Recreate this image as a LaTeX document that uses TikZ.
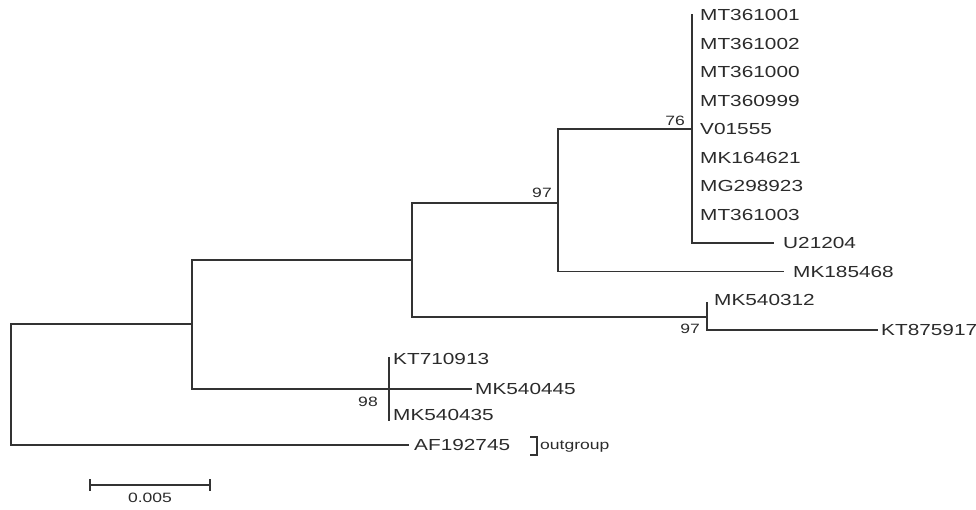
\documentclass[tikz,border=0pt]{standalone}
\usepackage{fontspec}
\setmainfont{Liberation Sans}
\definecolor{lc}{HTML}{333333}
\definecolor{tc}{HTML}{2B2B2B}
\newcommand{\wid}[1]{\scalebox{1.3}[1]{#1}}
\tikzset{
  branch/.style={draw=lc, line width=1.3pt, line cap=rect},
  tiplab/.style={anchor=west, inner sep=0pt, text=tc, font=\fontsize{16}{19}\selectfont, text height=11.4pt, text depth=0pt},
  supp/.style={inner sep=0pt, text=tc, font=\fontsize{13.5}{16}\selectfont},
}
\begin{document}
\begin{tikzpicture}[x=1pt,y=-1pt]
\useasboundingbox (0,0) rectangle (976,509);
% internal coordinates
\coordinate (rt) at (11,324);
\coordinate (rb) at (11,445);
\coordinate (A) at (192,324);
\coordinate (At) at (192,260);
\coordinate (Ab) at (192,389);
\coordinate (B) at (412,260);
\coordinate (Bt) at (412,203);
\coordinate (Bb) at (412,317);
\coordinate (C) at (558,203);
\coordinate (Ct) at (558,129);
\coordinate (Cb) at (558,271.5);
\coordinate (E) at (692,129);
\coordinate (Et) at (692,15);
\coordinate (Eb) at (692,243);
\coordinate (tU) at (773,243);
\coordinate (tMKa) at (783,271.5);
\coordinate (D) at (707,317);
\coordinate (Dt) at (707,303);
\coordinate (Db) at (707,330);
\coordinate (tKT) at (877,330);
\coordinate (F) at (389,389);
\coordinate (Ft) at (389,358);
\coordinate (Fb) at (389,420);
\coordinate (tMKb) at (471,389);
\coordinate (tAF) at (408,445);
% branches
\draw[branch] (rb) -- (rt) -- (A);
\draw[branch] (At) -- (Ab);
\draw[branch] (At) -- (B);
\draw[branch] (Bt) -- (Bb);
\draw[branch] (Bt) -- (C);
\draw[branch] (Ct) -- (Cb);
\draw[branch] (Ct) -- (E);
\draw[branch] (Et) -- (Eb) -- (tU);
\draw[branch] (Cb) -- (tMKa);
\draw[branch] (Bb) -- (D);
\draw[branch] (Dt) -- (Db) -- (tKT);
\draw[branch] (Ab) -- (F) -- (tMKb);
\draw[branch] (Ft) -- (Fb);
\draw[branch] (rb) -- (tAF);
% tip labels
\node[tiplab] (l1) at (700,15) {\wid{MT361001}};
\node[tiplab] (l2) at (700,43.5) {\wid{MT361002}};
\node[tiplab] (l3) at (700,72) {\wid{MT361000}};
\node[tiplab] (l4) at (700,100.5) {\wid{MT360999}};
\node[tiplab] (l5) at (700,129) {\wid{V01555}};
\node[tiplab] (l6) at (700,157.5) {\wid{MK164621}};
\node[tiplab] (l7) at (700,186) {\wid{MG298923}};
\node[tiplab] (l8) at (700,214.5) {\wid{MT361003}};
\node[tiplab] (l9) at (783,243) {\wid{U21204}};
\node[tiplab] (l10) at (793,271.5) {\wid{MK185468}};
\node[tiplab] (l11) at (714,300) {\wid{MK540312}};
\node[tiplab] (l12) at (881,330) {\wid{KT875917}};
\node[tiplab] (l13) at (393,359) {\wid{KT710913}};
\node[tiplab] (l14) at (475,389) {\wid{MK540445}};
\node[tiplab] (l15) at (393,415) {\wid{MK540435}};
\node[tiplab] (l16) at (414,445) {\wid{AF192745}};
% support values
\node[supp] (s1) at (542,193) {\wid{97}};
\node[supp] (s2) at (675,121) {\wid{76}};
\node[supp] (s3) at (690,329) {\wid{97}};
\node[supp] (s4) at (368,402) {\wid{98}};
% outgroup bracket
\coordinate (bt) at (531,437);
\coordinate (btr) at (537,437);
\coordinate (bbr) at (537,455);
\coordinate (bb) at (531,455);
\draw[branch, line width=1.1pt] (bt) -- (btr) -- (bbr) -- (bb);
\node[supp, anchor=base west] (og) at (540,449.5) {\wid{outgroup}};
% scale bar
\coordinate (sl) at (90,485);
\coordinate (sr) at (210,485);
\draw[branch] (sl) -- (sr);
\draw[branch] ([yshift=-5pt]sl) -- ([yshift=5pt]sl);
\draw[branch] ([yshift=-5pt]sr) -- ([yshift=5pt]sr);
\node[supp] (sc) at (150,498) {\wid{0.005}};
\end{tikzpicture}
\end{document}
